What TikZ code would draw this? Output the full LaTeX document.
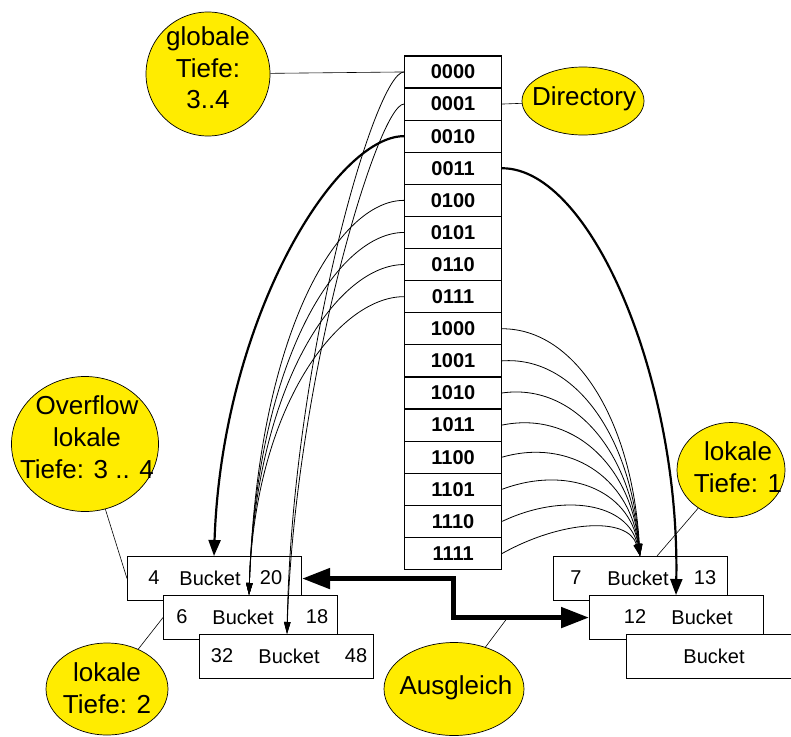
\documentclass[tikz,border=0pt]{standalone}
\usepackage{fontspec}
\setmainfont{Liberation Sans}
\usetikzlibrary{arrows.meta,shapes.geometric}
\definecolor{bubbleyellow}{RGB}{255,236,0}
\begin{document}
\begin{tikzpicture}[x=1pt,y=-1pt,
  bubble/.style={ellipse, draw=black, line width=0.7pt, fill=bubbleyellow, inner sep=0pt},
  btext/.style={align=center, font=\fontsize{26}{31.7}\selectfont, inner sep=0pt},
  dirrow/.style={draw=black, line width=1.2pt, minimum width=97pt, minimum height=32.1pt, inner sep=0pt, font=\fontsize{20}{24}\selectfont\bfseries, anchor=north west},
  bucketbox/.style={draw=black, line width=1.1pt, fill=white, minimum width=174pt, minimum height=44pt, inner sep=0pt, anchor=north west},
  btxt/.style={font=\fontsize{20}{24}\selectfont, inner sep=0pt},
  conn/.style={line width=0.6pt},
  thinarrow/.style={line width=0.8pt, -{Triangle[length=12pt,width=6.5pt]}},
  boldarrow/.style={line width=2.2pt, -{Triangle[length=16pt,width=12pt]}},
  dblarrow/.style={line width=5pt, line join=miter, {Triangle[length=28pt,width=20pt]}-{Triangle[length=28pt,width=20pt]}},
]
\useasboundingbox (0,0) rectangle (791,736);

% directory
\foreach \i/\t in {0/0000,1/0001,2/0010,3/0011,4/0100,5/0101,6/0110,7/0111,8/1000,9/1001,10/1010,11/1011,12/1100,13/1101,14/1110,15/1111}
  \node[dirrow] (r\i) at (404,{55.3+32.1*\i}) {\t};

% bubbles
\node[bubble, minimum width=124pt, minimum height=124pt] (gt) at (208,74) {};
\node[btext] (gtt) at (208,68) {globale\\Tiefe:\\3..4};
\node[bubble, minimum width=122pt, minimum height=68pt] (dir) at (583,101) {};
\node[btext] (dirt) at (584,99) {Directory};
\node[bubble, minimum width=147pt, minimum height=135pt] (ov) at (85,444) {};
\node[btext] (ovt) at (87,437) {Overflow\\lokale\\Tiefe: 3 .. 4};
\node[bubble, minimum width=122pt, minimum height=92pt] (lt2) at (107,689) {};
\node[btext] (lt2t) at (107,688) {lokale\\Tiefe: 2};
\node[bubble, minimum width=108pt, minimum height=95pt] (lt1) at (731,470) {};
\node[btext] (lt1t) at (738,467) {lokale\\Tiefe: 1};
\node[bubble, minimum width=140pt, minimum height=93pt] (ag) at (454,689) {};
\node[btext] (agt) at (456,688) {Ausgleich};

% buckets left
\node[bucketbox] (b1) at (127,556) {};
\node[btxt] (b1a) at (154,578) {4};
\node[btxt] (b1b) at (210,578) {Bucket};
\node[btxt] (b1c) at (271,578) {20};
\node[bucketbox] (b2) at (163,595) {};
\node[btxt] (b2a) at (182,617) {6};
\node[btxt] (b2b) at (243,617) {Bucket};
\node[btxt] (b2c) at (317,617) {18};
\node[bucketbox] (b3) at (199,634) {};
\node[btxt] (b3a) at (222,656) {32};
\node[btxt] (b3b) at (289,656) {Bucket};
\node[btxt] (b3c) at (356,656) {48};
% buckets right
\node[bucketbox] (bA) at (553,556) {};
\node[btxt] (bAa) at (576,578) {7};
\node[btxt] (bAb) at (638,578) {Bucket};
\node[btxt] (bAc) at (705,578) {13};
\node[bucketbox] (bB) at (589,595) {};
\node[btxt] (bBa) at (635,617) {12};
\node[btxt] (bBb) at (702,617) {Bucket};
\node[bucketbox] (bC) at (626,634) {};
\node[btxt] (bCb) at (714,656) {Bucket};

% arrow targets
\coordinate (t1) at (214,556);
\coordinate (t2) at (249,595);
\coordinate (t3) at (287,634);
\coordinate (tA) at (640,556);
\coordinate (tB) at (676,595);
\coordinate (cA) at (657,556);
\coordinate (cAg) at (508,617);

% bubble connectors
\draw[conn] (gt) -- (r0.west);
\draw[conn] (r1.east) -- (dir);
\draw[conn] (ov) -- (b1.west);
\draw[conn] (lt2) -- (b2.west);
\draw[conn] (lt1) -- (cA);
\draw[conn] (ag) -- (cAg);

% right thin curves
\foreach \i/\ax/\ay/\bx/\by in {8/74/0/-8/-135, 9/72/-5/-9/-121, 10/70/-10/-10/-107, 11/68/-14/-10/-94, 12/66/-19/-11/-80, 13/64/-24/-11/-67, 14/61/-29/-12/-53, 15/59/-33/-12/-40}
  \draw[thinarrow] (r\i.east) .. controls +(\ax,\ay) and +(\bx,\by) .. (tA);

% left thin curves to bucket 2
\foreach \i/\bx/\by in {4/9/-265, 5/8/-240, 6/7/-215, 7/6/-190}
  \draw[thinarrow] (r\i.west) .. controls +(-65,0) and +(\bx,\by) .. (t2);

% to bucket 3
\draw[thinarrow] (r0.west) .. controls +(-29,0) and +(5,-274) .. (t3);
\draw[thinarrow] (r1.west) .. controls +(-26,0) and +(8,-254) .. (t3);

% bold curves
\draw[boldarrow] (r2.west) .. controls +(-69,0) and +(8,-236) .. (t1);
\draw[boldarrow] (r3.east) .. controls +(89,0) and +(4,-215) .. (tB);

% Ausgleich double arrow
\draw[dblarrow] (b1.east) -- ++(151,0) |- (bB.west);
\end{tikzpicture}
\end{document}
